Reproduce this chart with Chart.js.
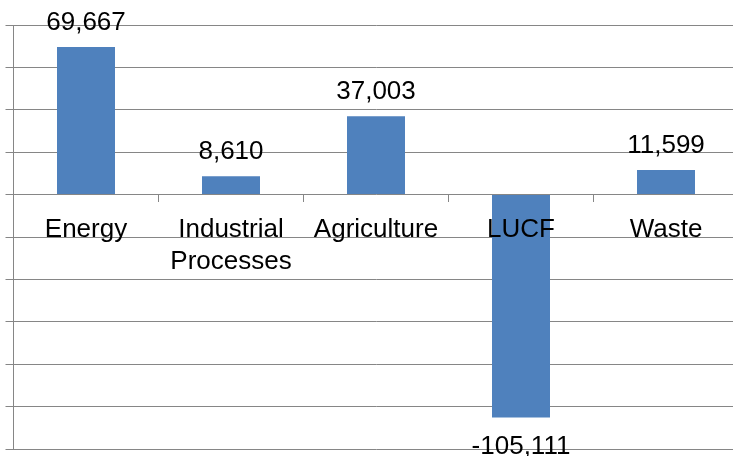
<!DOCTYPE html>
<html>
<head>
<meta charset="utf-8">
<script src="https://cdn.jsdelivr.net/npm/chart.js@4/dist/chart.umd.min.js"></script>
<style>
  html, body { margin: 0; padding: 0; background: #fff; overflow: hidden; }
  canvas { display: block; }
</style>
</head>
<body>
<canvas id="chart" width="745" height="456"></canvas>
<script>
// Emissions by sector
var categories = ['Energy', ['Industrial', 'Processes'], 'Agriculture', 'LUCF', 'Waste'];
var values = [69667, 8610, 37003, -105111, 11599];
var yMin = -120000;
var yMax = 80000;
var yStep = 20000;

var BAR_BLUE = '#4F81BD';
var GRID_GRAY = '#868686';
var FONT = "'Liberation Sans', Arial, sans-serif";

// value labels above / below each bar
var valueLabels = {
  id: 'valueLabels',
  afterDatasetsDraw: function(chart) {
    var ctx = chart.ctx;
    var meta = chart.getDatasetMeta(0);
    ctx.save();
    ctx.font = '26px ' + FONT;
    ctx.fillStyle = '#000';
    ctx.textAlign = 'center';
    ctx.textBaseline = 'alphabetic';
    meta.data.forEach(function(bar, i) {
      var v = values[i];
      var txt = v.toLocaleString('en-US');
      var y = v >= 0 ? bar.y - 17 : bar.y + 37;
      ctx.fillText(txt, bar.x, y);
    });
    ctx.restore();
  }
};

new Chart(document.getElementById('chart'), {
  type: 'bar',
  data: {
    labels: categories,
    datasets: [{
      data: values,
      backgroundColor: BAR_BLUE,
      borderWidth: 0,
      categoryPercentage: 1,
      barPercentage: 0.4
    }]
  },
  options: {
    responsive: false,
    animation: false,
    layout: { padding: { left: 5.5, right: 6.5, top: 25, bottom: 7 } },
    plugins: { legend: { display: false }, tooltip: { enabled: false } },
    scales: {
      x: {
        position: { y: 0 },
        afterFit: function(s) { s.height = 0; },
        grid: { drawOnChartArea: false, drawTicks: true, tickLength: 7, color: GRID_GRAY },
        border: { display: false },
        ticks: {
          z: 1,
          color: '#000',
          padding: 13,
          maxRotation: 0,
          autoSkip: false,
          font: { family: FONT, size: 26, lineHeight: 1.2 }
        }
      },
      y: {
        min: yMin,
        max: yMax,
        grid: { color: GRID_GRAY, tickLength: 8, drawTicks: true },
        border: { display: true, color: GRID_GRAY },
        ticks: { display: false, stepSize: yStep }
      }
    }
  },
  plugins: [valueLabels]
});
</script>
</body>
</html>
